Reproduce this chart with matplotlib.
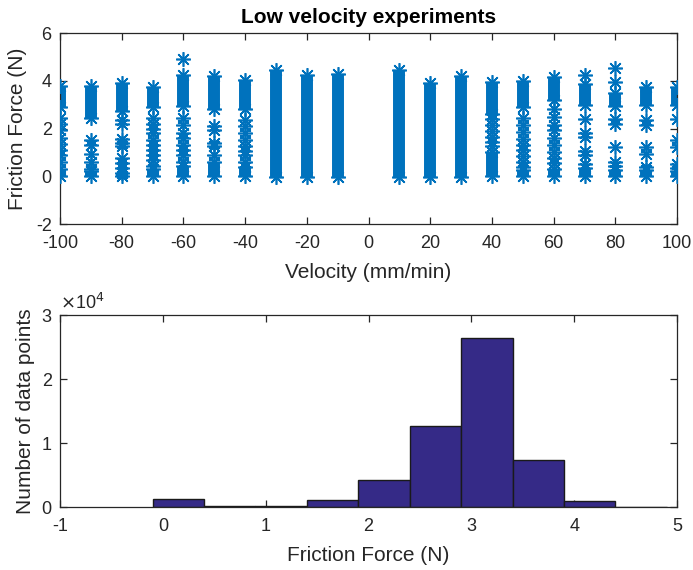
import matplotlib
matplotlib.use("Agg")
import matplotlib.pyplot as plt

plt.rcParams['font.family'] = ['Liberation Sans', 'DejaVu Sans']
plt.rcParams['axes.unicode_minus'] = False

# ---- friction measurements per sliding velocity ----
velocity = [-100, -90, -80, -70, -60, -50, -40, -30, -20, -10,
            10, 20, 30, 40, 50, 60, 70, 80, 90, 100]
# densely sampled friction band (N)
band_lo = [2.90, 2.45, 2.75, 2.90, 2.95, 2.80, 2.80, -0.05, -0.05, -0.05,
           -0.05, -0.05, -0.05, 2.60, 2.90, 3.20, 3.00, 2.95, 3.00, 3.00]
band_hi = [3.80, 3.80, 3.90, 3.75, 4.25, 4.20, 4.05, 4.45, 4.25, 4.30,
           4.45, 3.90, 4.20, 3.93, 4.00, 4.15, 3.85, 3.50, 3.75, 3.75]
# dense cluster near zero force (None where the band already covers it)
zero_lo = [0.0, 0.0, 0.0, 0.0, 0.0, 0.0, 0.0, None, None, None,
           None, None, None, 0.0, 0.0, 0.0, 0.0, 0.0, 0.0, 0.0]
zero_hi = [0.30, 0.20, 0.15, 0.30, 0.45, 0.60, 0.40, None, None, None,
           None, None, None, 1.00, 0.25, 0.30, 0.35, 0.25, 0.25, 0.20]
# isolated readings between the clusters
isolated = [
    [2.45, 2.2, 1.95, 1.6, 1.35, 1.1, 0.9, 0.6],
    [1.5, 1.3, 0.95, 0.6, 0.3],
    [2.35, 2.2, 1.55, 1.4, 1.25, 0.75, 0.55, 0.35],
    [2.45, 2.2, 2.0, 1.8, 1.5, 1.3, 1.1, 0.9, 0.7, 0.45],
    [4.9, 2.45, 2.15, 1.8, 1.6, 1.3, 1.1, 0.9, 0.6],
    [2.1, 1.95, 1.4, 1.25, 0.9],
    [2.35, 2.1, 1.8, 1.5, 1.25, 1.05, 0.9, 0.6],
    [], [], [],
    [], [], [],
    [2.4, 2.15, 1.9, 1.65, 1.45, 1.25],
    [2.45, 2.15, 1.85, 1.55, 1.3, 1.1, 0.85, 0.6, 0.4],
    [2.8, 2.5, 2.15, 1.95, 1.6, 1.3, 1.0, 0.75, 0.55],
    [4.25, 2.42, 1.8, 1.65, 1.05, 0.9, 0.5],
    [4.53, 3.96, 2.38, 2.2, 1.23, 0.6, 0.45],
    [2.35, 2.14, 1.23, 0.95, 0.4],
    [2.42, 1.5, 1.23, 0.5, 0.35],
]

# ---- histogram of all friction readings ----
bin_edges = [-0.1, 0.4, 0.9, 1.4, 1.9, 2.4, 2.9, 3.4, 3.9, 4.4, 4.9]
bin_counts = [1250, 200, 200, 1100, 4200, 12650, 26450, 7300, 900, 60]

BLUE = '#0072BD'
BAR = '#352A87'
AX = '#262626'
STAR = (8, 2, 0)   # eight-armed asterisk


def style_axes(ax):
    for s in ax.spines.values():
        s.set_color(AX)
        s.set_linewidth(0.9)
    ax.tick_params(direction='in', top=True, right=True, length=5,
                   width=0.9, color=AX, labelcolor=AX, labelsize=13)
    ax.tick_params(axis='x', pad=8)
    ax.tick_params(axis='y', pad=6)


fig = plt.figure(figsize=(6.93, 5.70), dpi=100)

# ---------------- top: friction vs velocity ----------------
ax1 = fig.add_axes([0.0866, 0.607, 0.8904, 0.335])
for i, v in enumerate(velocity):
    runs = [(band_lo[i], band_hi[i])]
    if zero_lo[i] is not None:
        runs.append((zero_lo[i], zero_hi[i]))
    for lo, hi in runs:
        ax1.vlines(v, lo, hi, color=BLUE, lw=8.6, capstyle='butt', zorder=2)
        ax1.plot([v, v], [lo, hi], ls='none', marker=STAR, ms=10.5, mew=1.2,
                 color=BLUE, zorder=3)
    if isolated[i]:
        ax1.plot([v] * len(isolated[i]), isolated[i], ls='none', marker=STAR,
                 ms=10.5, mew=1.2, color=BLUE, zorder=3)

ax1.set_xlim(-100, 100)
ax1.set_ylim(-2, 6)
ax1.set_xticks(range(-100, 101, 20))
ax1.set_yticks(range(-2, 7, 2))
style_axes(ax1)
ax1.set_xlabel('Velocity (mm/min)', fontsize=15, color=AX, labelpad=8)
ax1.set_ylabel('Friction Force (N)', fontsize=15, color=AX, labelpad=6)
ax1.set_title('Low velocity experiments', fontsize=15, fontweight='bold',
              color='black', pad=7)

# ---------------- bottom: histogram ----------------
ax2 = fig.add_axes([0.0866, 0.1105, 0.8904, 0.3365])
widths = [bin_edges[k + 1] - bin_edges[k] for k in range(len(bin_counts))]
ax2.bar(bin_edges[:-1], bin_counts, width=widths, align='edge',
        color=BAR, edgecolor='#1a1a1a', linewidth=1.0, zorder=2)
ax2.set_xlim(-1, 5)
ax2.set_ylim(0, 30000)
ax2.set_xticks(range(-1, 6))
ax2.set_yticks([0, 10000, 20000, 30000])
ax2.set_yticklabels(['0', '1', '2', '3'])
style_axes(ax2)
ax2.text(0.0, 1.012, r'$\times$10$^4$', transform=ax2.transAxes,
         fontsize=13, color=AX, ha='left', va='bottom')
ax2.set_xlabel('Friction Force (N)', fontsize=15, color=AX, labelpad=8)
ax2.set_ylabel('Number of data points', fontsize=15, color=AX, labelpad=5)

fig.savefig('out.png', dpi=100)
